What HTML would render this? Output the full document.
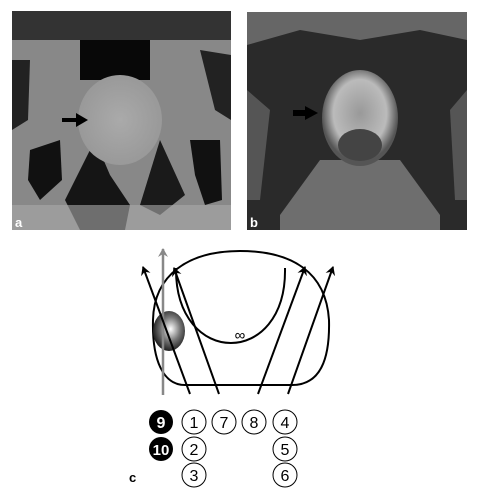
<!DOCTYPE html>
<html><head><meta charset="utf-8"><style>
html,body{margin:0;padding:0;background:#fff;}
svg{display:block;font-family:"Liberation Sans",sans-serif;}
</style></head><body>
<svg width="478" height="496" viewBox="0 0 478 496">
<defs>
<radialGradient id="ball" cx="0.55" cy="0.45" r="0.6"><stop offset="0" stop-color="#fff"/><stop offset="0.5" stop-color="#777"/><stop offset="1" stop-color="#111"/></radialGradient>
<radialGradient id="prosA" cx="0.5" cy="0.5" r="0.5"><stop offset="0" stop-color="#aaa"/><stop offset="1" stop-color="#999"/></radialGradient>
<radialGradient id="prosB" cx="0.5" cy="0.45" r="0.5"><stop offset="0" stop-color="#999"/><stop offset="0.7" stop-color="#bbb"/><stop offset="1" stop-color="#555"/></radialGradient>
<marker id="ah" markerWidth="10" markerHeight="10" refX="8" refY="5" orient="auto" markerUnits="userSpaceOnUse"><path d="M0,0 L9,5 L0,10 L3,5 Z" fill="#000"/></marker>
<marker id="ahg" markerWidth="10" markerHeight="10" refX="8" refY="5" orient="auto" markerUnits="userSpaceOnUse"><path d="M0,0 L9,5 L0,10 L3,5 Z" fill="#888"/></marker>
</defs>
<g>
<rect x="12" y="11" width="219" height="219" fill="#888"/>
<path d="M12 11 H231 V40 H12 Z" fill="#333"/>
<path d="M80 40 H150 V80 H80 Z" fill="#080808"/>
<path d="M12 60 L30 60 L28 120 L12 130 Z" fill="#222"/>
<path d="M200 50 L231 55 L231 120 L215 110 Z" fill="#222"/>
<path d="M30 150 L60 140 L62 180 L40 200 L28 180 Z" fill="#111"/>
<path d="M190 140 L220 140 L222 200 L205 205 L195 175 Z" fill="#111"/>
<path d="M65 200 L95 140 L110 175 L130 205 L125 230 L80 230 Z" fill="#151515"/>
<path d="M140 205 L160 140 L185 195 L160 215 Z" fill="#1a1a1a"/>
<ellipse cx="120" cy="120" rx="42" ry="45" fill="url(#prosA)"/>
<rect x="12" y="205" width="219" height="25" fill="#aaa" opacity="0.6"/>
<path d="M62 118 H76 V113 L88 120 L76 127 V122 H62 Z" fill="#000"/>
<text x="15" y="227" font-size="13" font-weight="bold" fill="#fff">a</text>
</g>
<g>
<rect x="247" y="12" width="220" height="218" fill="#2a2a2a"/>
<path d="M247 12 H467 V40 L420 30 L360 40 L300 30 L247 45 Z" fill="#666"/>
<path d="M320 160 L400 160 L440 215 L440 230 L280 230 L280 215 Z" fill="#6e6e6e"/>
<path d="M247 90 L270 110 L260 200 L247 200 Z" fill="#555"/>
<path d="M467 90 L450 110 L455 200 L467 200 Z" fill="#555"/>
<ellipse cx="360" cy="118" rx="38" ry="48" fill="url(#prosB)"/>
<ellipse cx="360" cy="145" rx="22" ry="16" fill="#444"/>
<path d="M293 110 H305 V106 L318 113 L305 120 V116 H293 Z" fill="#000"/>
<text x="250" y="227" font-size="13" font-weight="bold" fill="#fff">b</text>
</g>
<g>
<path d="M185 385 L292 385 C320 385 330 360 329 320 C326 272 292 251 240 251 C188 251 154 275 153 320 C152 360 163 385 185 385 Z" fill="none" stroke="#000" stroke-width="2"/>
<path d="M176 268 C175 368 287 368 285 268" fill="none" stroke="#000" stroke-width="2"/>
<text x="240" y="340" font-size="15" text-anchor="middle" fill="#000">∞</text>
<ellipse cx="169" cy="331" rx="16" ry="20" fill="url(#ball)"/>
<line x1="163" y1="395" x2="163" y2="249" stroke="#888" stroke-width="2.5" marker-end="url(#ahg)"/>
<line x1="190" y1="394" x2="143" y2="267" stroke="#000" stroke-width="2" marker-end="url(#ah)"/>
<line x1="219" y1="394" x2="174" y2="268" stroke="#000" stroke-width="2" marker-end="url(#ah)"/>
<line x1="258" y1="394" x2="305" y2="267" stroke="#000" stroke-width="2" marker-end="url(#ah)"/>
<line x1="288" y1="394" x2="333" y2="267" stroke="#000" stroke-width="2" marker-end="url(#ah)"/>
<g font-size="16" text-anchor="middle" stroke-width="1">
<circle cx="161" cy="422" r="12" fill="#000"/><text x="161" y="428" fill="#fff" font-weight="bold">9</text>
<circle cx="161" cy="449" r="12" fill="#000"/><text x="161" y="455" fill="#fff" font-weight="bold" font-size="15">10</text>
<circle cx="194" cy="422" r="12" fill="#fff" stroke="#000"/><text x="194" y="428">1</text>
<circle cx="224" cy="422" r="12" fill="#fff" stroke="#000"/><text x="224" y="428">7</text>
<circle cx="254" cy="422" r="12" fill="#fff" stroke="#000"/><text x="254" y="428">8</text>
<circle cx="285" cy="422" r="12" fill="#fff" stroke="#000"/><text x="285" y="428">4</text>
<circle cx="194" cy="449" r="12" fill="#fff" stroke="#000"/><text x="194" y="455">2</text>
<circle cx="285" cy="449" r="12" fill="#fff" stroke="#000"/><text x="285" y="455">5</text>
<circle cx="194" cy="475" r="12" fill="#fff" stroke="#000"/><text x="194" y="481">3</text>
<circle cx="285" cy="475" r="12" fill="#fff" stroke="#000"/><text x="285" y="481">6</text>
</g>
<text x="129" y="482" font-size="13" font-weight="bold">c</text>
</g>
</svg>
</body></html>
